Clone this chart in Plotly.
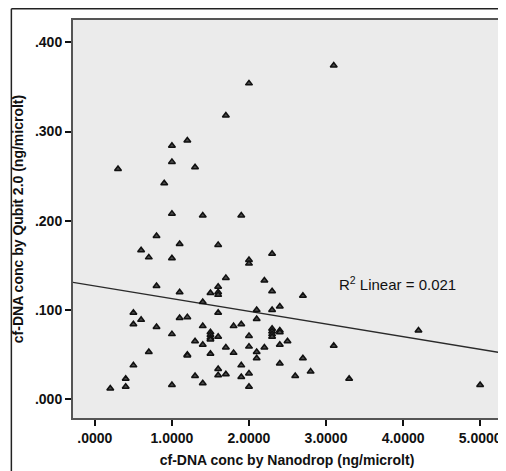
import plotly.graph_objects as go

# cf-DNA concentrations (ng/microlt)
nanodrop = [0.2, 0.3, 0.4, 0.4, 0.5, 0.5, 0.5, 0.6, 0.6, 0.7, 0.7, 0.8, 0.8, 0.8, 0.9,
            1.0, 1.0, 1.0, 1.0, 1.0, 1.0, 1.1, 1.1, 1.1, 1.2, 1.2, 1.2, 1.2, 1.3, 1.3,
            1.3, 1.4, 1.4, 1.4, 1.4, 1.4, 1.5, 1.5, 1.5, 1.5, 1.5, 1.5, 1.6, 1.6, 1.6,
            1.6, 1.6, 1.6, 1.6, 1.6, 1.7, 1.7, 1.7, 1.7, 1.8, 1.8, 1.9, 1.9, 1.9, 1.9,
            2.0, 2.0, 2.0, 2.0, 2.0, 2.0, 2.0, 2.1, 2.1, 2.1, 2.1, 2.2, 2.2, 2.3, 2.3,
            2.3, 2.3, 2.3, 2.3, 2.3, 2.4, 2.4, 2.4, 2.4, 2.4, 2.5, 2.6, 2.7, 2.7, 2.8,
            3.1, 3.1, 3.3, 4.2, 5.0]
qubit = [0.012, 0.258, 0.023, 0.014, 0.097, 0.084, 0.038, 0.167, 0.089, 0.159, 0.053,
         0.183, 0.127, 0.081, 0.242, 0.284, 0.266, 0.208, 0.158, 0.073, 0.016, 0.174,
         0.120, 0.091, 0.290, 0.092, 0.050, 0.049, 0.260, 0.065, 0.026, 0.206, 0.109,
         0.082, 0.061, 0.018, 0.119, 0.075, 0.072, 0.069, 0.067, 0.051, 0.173, 0.126,
         0.120, 0.117, 0.097, 0.070, 0.034, 0.027, 0.318, 0.136, 0.058, 0.028, 0.082,
         0.052, 0.206, 0.084, 0.038, 0.025, 0.354, 0.156, 0.152, 0.071, 0.059, 0.029,
         0.014, 0.100, 0.090, 0.053, 0.046, 0.133, 0.058, 0.163, 0.121, 0.100, 0.079,
         0.076, 0.073, 0.070, 0.104, 0.077, 0.075, 0.061, 0.040, 0.065, 0.026, 0.116,
         0.046, 0.031, 0.374, 0.060, 0.023, 0.077, 0.016]

# linear fit line as drawn
fit_intercept = 0.127
fit_slope = -0.0142
r2_text = "R<sup>2</sup> Linear = 0.021"

x_ticks = [0, 1, 2, 3, 4, 5]
x_ticktext = [".0000", "1.0000", "2.0000", "3.0000", "4.0000", "5.0000"]
y_ticks = [0.0, 0.1, 0.2, 0.3, 0.4]
y_ticktext = [".000", ".100", ".200", ".300", ".400"]

x_range = [-0.284, 5.271]
y_range = [-0.021, 0.425]

fig = go.Figure()

fig.add_trace(go.Scatter(
    x=x_range,
    y=[fit_intercept + fit_slope * v for v in x_range],
    mode="lines",
    line=dict(color="#2a2a2a", width=1.3),
    hoverinfo="skip",
))

fig.add_trace(go.Scatter(
    x=nanodrop, y=qubit,
    mode="markers",
    marker=dict(symbol="triangle-up", size=6, color="#4a4a4a",
                line=dict(color="#111", width=1.5)),
))

fig.add_annotation(
    x=3.14, y=0.130, xref="x", yref="y", xanchor="left", yanchor="middle",
    text=r2_text, showarrow=False,
    font=dict(family="Liberation Sans, Arial", size=15, color="#111"),
)

# outer frame of the figure (top and left edges visible)
fig.add_shape(type="line", xref="paper", yref="paper", x0=-0.144, x1=1.2, y0=1.028, y1=1.028,
              line=dict(color="#222", width=1.5))
fig.add_shape(type="line", xref="paper", yref="paper", x0=-0.144, x1=-0.144, y0=1.028, y1=-0.2,
              line=dict(color="#222", width=1.5))

axis_font = dict(family="Liberation Sans, Arial", size=14, color="#111")
title_font = dict(family="Liberation Sans, Arial", size=14, color="#111")

fig.update_xaxes(
    range=x_range, tickvals=x_ticks, ticktext=[f"<b>{t}</b>" for t in x_ticktext],
    ticks="outside", ticklen=6, tickwidth=1.5, tickcolor="#111",
    showgrid=False, zeroline=False,
    showline=True, linecolor="#555", linewidth=2, mirror=True,
    tickfont=axis_font,
    title=dict(text="<b>cf-DNA conc by Nanodrop (ng/microlt)</b>", font=title_font, standoff=10),
)
fig.update_yaxes(
    range=y_range, tickvals=y_ticks, ticktext=[f"<b>{t}</b>" for t in y_ticktext],
    ticks="outside", ticklen=6, tickwidth=1.5, tickcolor="#111",
    showgrid=False, zeroline=False,
    showline=True, linecolor="#555", linewidth=2, mirror=True,
    tickfont=axis_font,
    title=dict(text="<b>cf-DNA conc by Qubit 2.0 (ng/microlt)</b>", font=title_font, standoff=8),
)

# the page adds an 8px body margin, so the figure is sized 8px smaller
fig.update_layout(
    width=498, height=463,
    margin=dict(l=65, r=3, t=12, b=53),
    paper_bgcolor="white",
    plot_bgcolor="#ebebeb",
    showlegend=False,
)

fig.write_html("out.html")
